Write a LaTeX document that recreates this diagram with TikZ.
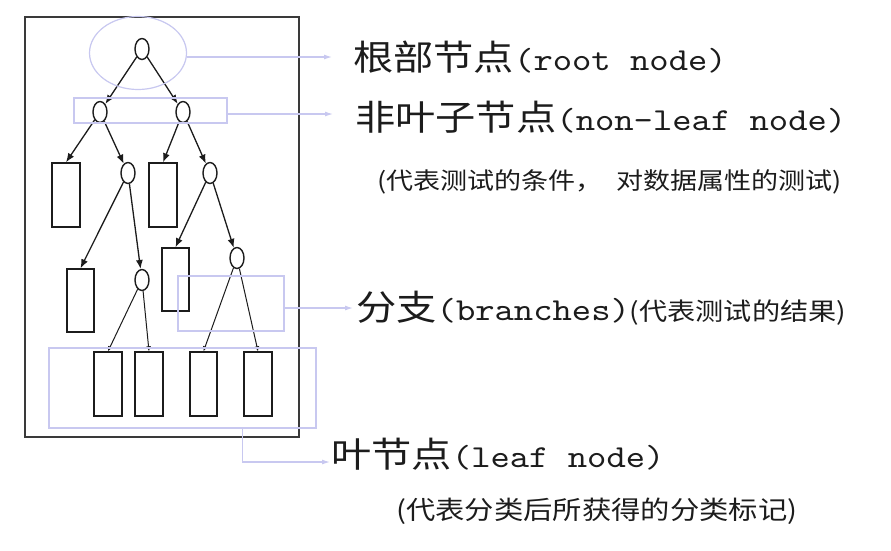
\documentclass[tikz,border=0pt]{standalone}
\usepackage{fontspec}
\newfontfamily\cjk[FakeStretch=1.15]{Noto Sans CJK SC}
\setmonofont{lmmono10-regular.otf}[FakeStretch=1.15]
\usetikzlibrary{positioning,arrows.meta,shapes.geometric}
\definecolor{ink}{HTML}{1C1C1C}
\definecolor{frame}{HTML}{3A3A3A}
\definecolor{lav}{HTML}{C8C8F0}
\newcommand\lblbig[2]{{\cjk\fontsize{35}{40}\selectfont #1}{\ttfamily\fontsize{32}{38}\selectfont #2}}
\newcommand\lblsmall[2][23.5]{{\cjk\fontsize{#1}{28}\selectfont #2}}

\begin{document}
\begin{tikzpicture}[x=1pt,y=-1pt,
  oval/.style={draw=ink,ellipse,line width=1.4pt,minimum width=14pt,minimum height=21pt,inner sep=0},
  leaf/.style={draw=ink,line width=1.4pt,minimum width=28pt,minimum height=64pt,inner sep=0},
  edge/.style={draw=ink,line width=1.3pt,-{Latex[length=9pt,width=7pt]}},
  twig/.style={draw=ink,line width=1pt,-{Latex[length=5pt,width=5pt]}},
  markbox/.style={draw=lav,line width=1.2pt,inner sep=0},
  pointer/.style={draw=lav,line width=1.2pt,-{Latex[length=8pt,width=5pt]}},
  lbl/.style={anchor=west,inner sep=0,text=ink}]
\fill[white] (0,0) rectangle (891,550);
\useasboundingbox (0,0) rectangle (891,550);
\draw[frame,line width=1.2pt] (25,17) rectangle (299,437);
% tree
\node[oval] (r) at (142,49){};
\node[oval] (a) at (100,112){};
\node[oval] (b) at (183,112){};
\node[leaf] (a1) at (66,195){};
\node[oval] (a2) at (128,173){};
\node[leaf] (b1) at (163,195){};
\node[oval] (b2) at (210,173){};
\node[leaf,minimum width=27pt,minimum height=63pt] (a21) at (80.5,300.5){};
\node[oval] (a22) at (142,280){};
\node[leaf,minimum width=27pt,minimum height=63pt] (b21) at (175.5,279.5){};
\node[oval] (b22) at (237,258){};
\node[leaf] (c1) at (108,384){};
\node[leaf] (c2) at (149,384){};
\node[leaf,minimum width=27pt] (c3) at (203.5,384){};
\node[leaf] (c4) at (258,384){};
\draw[edge] (r)--(a);\draw[edge] (r)--(b);
\draw[edge] (a)--(a1.north);\draw[edge] (a)--(a2);\draw[edge] (b)--(b1.north);\draw[edge] (b)--(b2);
\draw[edge] (a2)--(a21.north);\draw[edge] (a2)--(a22);\draw[edge] (b2)--(b21.north);\draw[edge] (b2)--(b22);
\draw[twig] (a22)--(c1.north);\draw[twig] (a22)--(c2.north);\draw[twig] (b22)--(c3.north);\draw[twig] (b22)--(c4.north);
% marks
\node[markbox,ellipse,minimum width=97pt,minimum height=73pt] (rootmark) at (138,53){};
\node[markbox,minimum width=153pt,minimum height=25pt] (levelmark) at (150.5,110.5){};
\node[markbox,minimum width=106pt,minimum height=55pt] (branchmark) at (231,303.5){};
\node[markbox,minimum width=267pt,minimum height=80pt] (leafmark) at (182.5,388){};
% labels
\node[lbl] (rootlbl) at (353,57){\lblbig{根部节点}{(root node)}};
\node[lbl] (innerlbl) at (355,117){\lblbig{非叶子节点}{(non-leaf node)}};
\node[lbl] (innernote) at (377,182){\lblsmall{(代表测试的条件，\hspace{0.6em}对数据属性的测试)}};
\node[lbl] (branchlbl) at (356,308){\lblbig{分支}{(branches)}\lblsmall[24.5]{(代表测试的结果)}};
\node[lbl] (leaflbl) at (331,454){\lblbig{叶节点}{(leaf node)}};
\node[lbl] (leafnote) at (396,511){\lblsmall[25.5]{(代表分类后所获得的分类标记)}};
\draw[pointer,shorten >=21pt] (rootmark.east |- rootlbl.west)--(rootlbl.west);
\draw[pointer,shorten >=22pt] ([yshift=-3.5pt]levelmark.east)--([yshift=-3.5pt]levelmark.east -| innerlbl.west);
\draw[pointer,shorten >=3pt] (branchmark.east |- branchlbl.west)--(branchlbl.west);
\draw[pointer,shorten >=1pt] ([xshift=60pt]leafmark.south) |- ([yshift=-8pt]leaflbl.west);
\end{tikzpicture}
\end{document}
